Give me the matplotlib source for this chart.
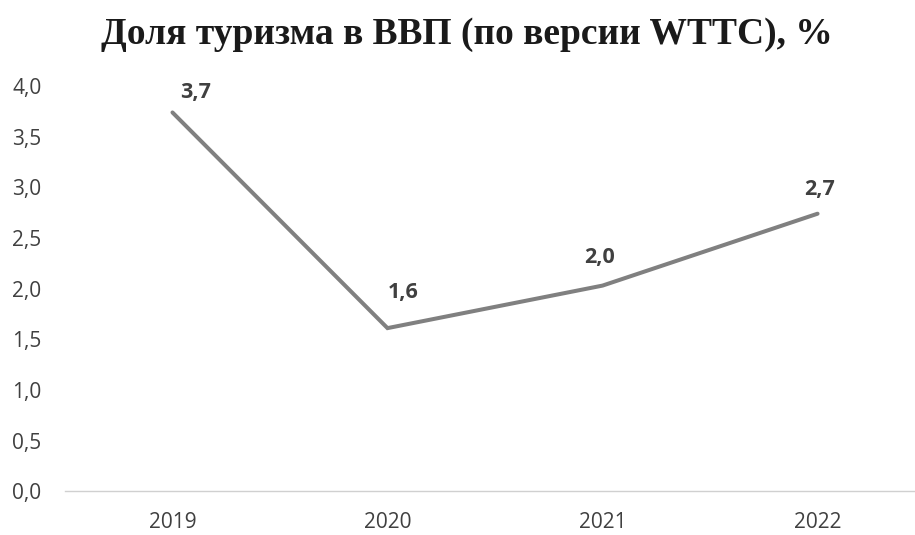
import matplotlib.pyplot as plt

years = ['2019', '2020', '2021', '2022']
share = [3.74, 1.61, 2.03, 2.74]
y_ticks = [0.0, 0.5, 1.0, 1.5, 2.0, 2.5, 3.0, 3.5, 4.0]

# label offsets in pixels (dx, dy)
offsets = [(23, 20), (16, 36), (-3, 28), (2, 24)]

fig = plt.figure(figsize=(9.15, 5.35), dpi=100)
ax = fig.add_axes([0.071, 0.082, 0.94, 0.757])

x = range(len(years))
ax.plot(x, share, color='#808080', linewidth=2.9, solid_capstyle='round', solid_joinstyle='miter')

for i, v in enumerate(share):
    ax.annotate(('%.1f' % v).replace('.', ','), (i, v), xytext=offsets[i], textcoords='offset pixels',
                ha='center', va='center', fontsize=15.5, fontweight='bold', color='#404040',
                family='Open Sans')

ax.set_xlim(-0.5, 3.5)
ax.set_ylim(0, 4)
ax.set_xticks(list(x))
ax.set_xticklabels(years)
ax.set_yticks(y_ticks)
ax.set_yticklabels([('%.1f' % t).replace('.', ',') for t in y_ticks])
for lab in ax.get_xticklabels() + ax.get_yticklabels():
    lab.set_family('Open Sans')
    lab.set_fontsize(15)
    lab.set_color('#404040')

ax.tick_params(length=0, pad=17)
ax.tick_params(axis='x', pad=15)
for s in ['top', 'right', 'left']:
    ax.spines[s].set_visible(False)
ax.spines['bottom'].set_color('#d0d0d0')
ax.spines['bottom'].set_linewidth(1)

fig.text(0.51, 0.935, 'Доля туризма в ВВП (по версии WTTC), %', ha='center', va='center',
         fontsize=27, fontweight='bold', family='Liberation Serif', color='#1a1a1a')

fig.savefig('out.png', dpi=100)
